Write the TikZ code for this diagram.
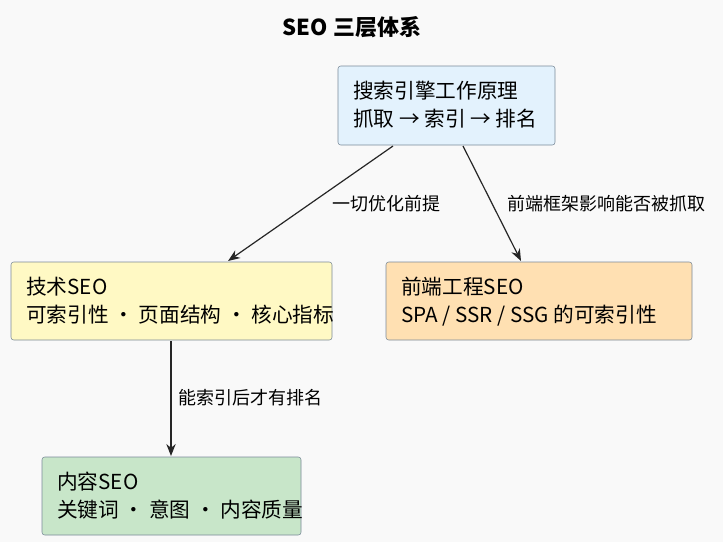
\documentclass[tikz,border=0pt]{standalone}
\usepackage{fontspec}
\setmainfont{Noto Sans CJK SC}
\usetikzlibrary{arrows.meta}
\definecolor{bg}{HTML}{F9F9F9}
\definecolor{bblue}{HTML}{E3F2FD}
\definecolor{byel}{HTML}{FFF9C4}
\definecolor{bora}{HTML}{FFE0B2}
\definecolor{bgrn}{HTML}{C8E6C9}
\definecolor{bord}{HTML}{7A8A99}
\begin{document}
\begin{tikzpicture}[x=0.75pt,y=-0.75pt,
 frame/.style={draw=bord,rounded corners=2pt},
 txt/.style={anchor=north west,align=left,inner sep=0pt,font=\fontsize{15.5}{21}\selectfont},
 lab/.style={font=\fontsize{13.5}{16}\selectfont,inner sep=1pt},
 arr/.style={-{Stealth[length=9pt,width=7pt]},draw=black!85,line width=0.9pt}]
\fill[bg] (0,0) rectangle (723,542);
\useasboundingbox (0,0) rectangle (723,542);
\node[font=\bfseries\fontsize{16.5}{18}\selectfont] (t) at (352,27) {SEO 三层体系};
\draw[frame,fill=bblue] (338,66) rectangle (555,145);
\node[txt] (a) at (353,81) {搜索引擎工作原理\\抓取 → 索引 → 排名};
\coordinate (a1) at (393,146); \coordinate (a2) at (463,146);
\draw[frame,fill=byel] (11,262) rectangle (332,340);
\node[txt] (b) at (26,277) {技术SEO\\可索引性 · 页面结构 · 核心指标};
\draw[frame,fill=bora] (386,262) rectangle (692,340);
\node[txt] (c) at (401,277) {前端工程SEO\\SPA / SSR / SSG 的可索引性};
\draw[frame,fill=bgrn] (42,457) rectangle (301,535);
\node[txt] (d) at (57,472) {内容SEO\\关键词 · 意图 · 内容质量};
\coordinate (b1) at (228,261); \coordinate (c1) at (521,261);
\coordinate (b2) at (171,341); \coordinate (d1) at (171,456);
\draw[arr] (a1) -- (b1);
\draw[arr] (a2) -- (c1);
\draw[arr] (b2) -- (d1);
\node[lab] (l1) at (386,204) {一切优化前提};
\node[lab] (l2) at (606,204) {前端框架影响能否被抓取};
\node[lab] (l3) at (250,398) {能索引后才有排名};
\end{tikzpicture}
\end{document}
